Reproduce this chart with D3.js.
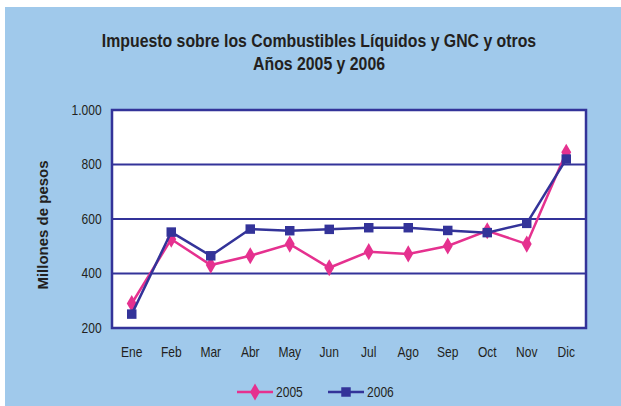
<!DOCTYPE html>
<html>
<head>
<meta charset="utf-8">
<script src="https://cdn.jsdelivr.net/npm/d3@7"></script>
<style>
  body { margin: 0; background: #fff; }
  text { fill: #231f20; }
</style>
</head>
<body>
<svg id="chart" width="621" height="406"></svg>
<script>
var months = ['Ene', 'Feb', 'Mar', 'Abr', 'May', 'Jun', 'Jul', 'Ago', 'Sep', 'Oct', 'Nov', 'Dic'];
var values2005 = [290, 526, 431, 465, 508, 421, 480, 472, 501, 557, 508, 845];
var values2006 = [251, 552, 465, 563, 557, 562, 568, 568, 558, 550, 584, 820];
var yTicks = [200, 400, 600, 800, 1000];
var yTickLabels = ['200', '400', '600', '800', '1.000'];

var pink = '#e5318f', navy = '#333399';
var font = '"Liberation Sans", Arial, sans-serif';
var squeeze = 'scale(0.86,1)';

var svg = d3.select('#chart');
svg.append('rect').attr('x', 5).attr('y', 7).attr('width', 616).attr('height', 399).attr('fill', '#a0c9eb');

var m = {left: 112, right: 586, top: 110, bottom: 328};
var x = d3.scaleBand().domain(months).range([m.left, m.right]);
var y = d3.scaleLinear().domain([200, 1000]).range([m.bottom, m.top]);

svg.append('rect').attr('x', m.left).attr('y', m.top)
  .attr('width', m.right - m.left).attr('height', m.bottom - m.top)
  .attr('fill', '#fff');

// gridlines
svg.append('g').selectAll('line').data(yTicks.slice(1, -1)).enter().append('line')
  .attr('x1', m.left).attr('x2', m.right)
  .attr('y1', function(d) { return y(d); }).attr('y2', function(d) { return y(d); })
  .attr('stroke', navy).attr('stroke-width', 2);

svg.append('rect').attr('x', m.left).attr('y', m.top)
  .attr('width', m.right - m.left).attr('height', m.bottom - m.top)
  .attr('fill', 'none').attr('stroke', navy).attr('stroke-width', 2.5);

// axes
var yAxis = d3.axisLeft(y).tickValues(yTicks).tickSize(0).tickPadding(12)
  .tickFormat(function(d, i) { return yTickLabels[i]; });
var gy = svg.append('g').attr('transform', 'translate(' + m.left + ',0)').call(yAxis);
gy.select('.domain').remove();
gy.selectAll('text').style('font-family', font).style('font-size', '14px').attr('fill', '#231f20')
  .attr('transform', squeeze);

var xAxis = d3.axisBottom(x).tickSize(0).tickPadding(19);
var gx = svg.append('g').attr('transform', 'translate(0,' + m.bottom + ')').call(xAxis);
gx.select('.domain').remove();
gx.selectAll('text').style('font-family', font).style('font-size', '14px').attr('fill', '#231f20')
  .attr('transform', squeeze);

// titles
var titles = ['Impuesto sobre los Combustibles Líquidos y GNC y otros', 'Años 2005 y 2006'];
titles.forEach(function(t, i) {
  svg.append('g').attr('transform', 'translate(319,' + (47 + i * 23) + ')')
    .append('text').attr('text-anchor', 'middle').attr('transform', 'scale(0.89,1)')
    .style('font-family', font).style('font-size', '17.8px').style('font-weight', 'bold')
    .text(t);
});
svg.append('text').attr('transform', 'translate(48,225) rotate(-90)').attr('text-anchor', 'middle')
  .style('font-family', font).style('font-size', '15px').style('font-weight', 'bold')
  .text('Millones de pesos');

// series
var line = d3.line()
  .x(function(d, i) { return x(months[i]) + x.bandwidth() / 2; })
  .y(function(d) { return y(d); });

var series = [
  {name: '2005', values: values2005, color: pink, symbol: d3.symbolDiamond, size: 85},
  {name: '2006', values: values2006, color: navy, symbol: d3.symbolSquare, size: 90}
];

series.forEach(function(s) {
  svg.append('path').datum(s.values).attr('d', line)
    .attr('fill', 'none').attr('stroke', s.color).attr('stroke-width', 2.5);
  svg.append('g').selectAll('path').data(s.values).enter().append('path')
    .attr('d', d3.symbol().type(s.symbol).size(s.size))
    .attr('transform', function(d, i) {
      return 'translate(' + (x(months[i]) + x.bandwidth() / 2) + ',' + y(d) + ')';
    })
    .attr('fill', s.color);
});

// legend
var legendX = [237, 328];
series.forEach(function(s, i) {
  var g = svg.append('g').attr('transform', 'translate(' + legendX[i] + ',392)');
  g.append('line').attr('x1', 0).attr('x2', 36).attr('stroke', s.color).attr('stroke-width', 2.5);
  g.append('path').attr('d', d3.symbol().type(s.symbol).size(s.size)())
    .attr('transform', 'translate(18,0)').attr('fill', s.color);
  g.append('g').attr('transform', 'translate(39,5)')
    .append('text').attr('transform', squeeze).style('font-family', font).style('font-size', '14px')
    .text(s.name);
});
</script>
</body>
</html>
